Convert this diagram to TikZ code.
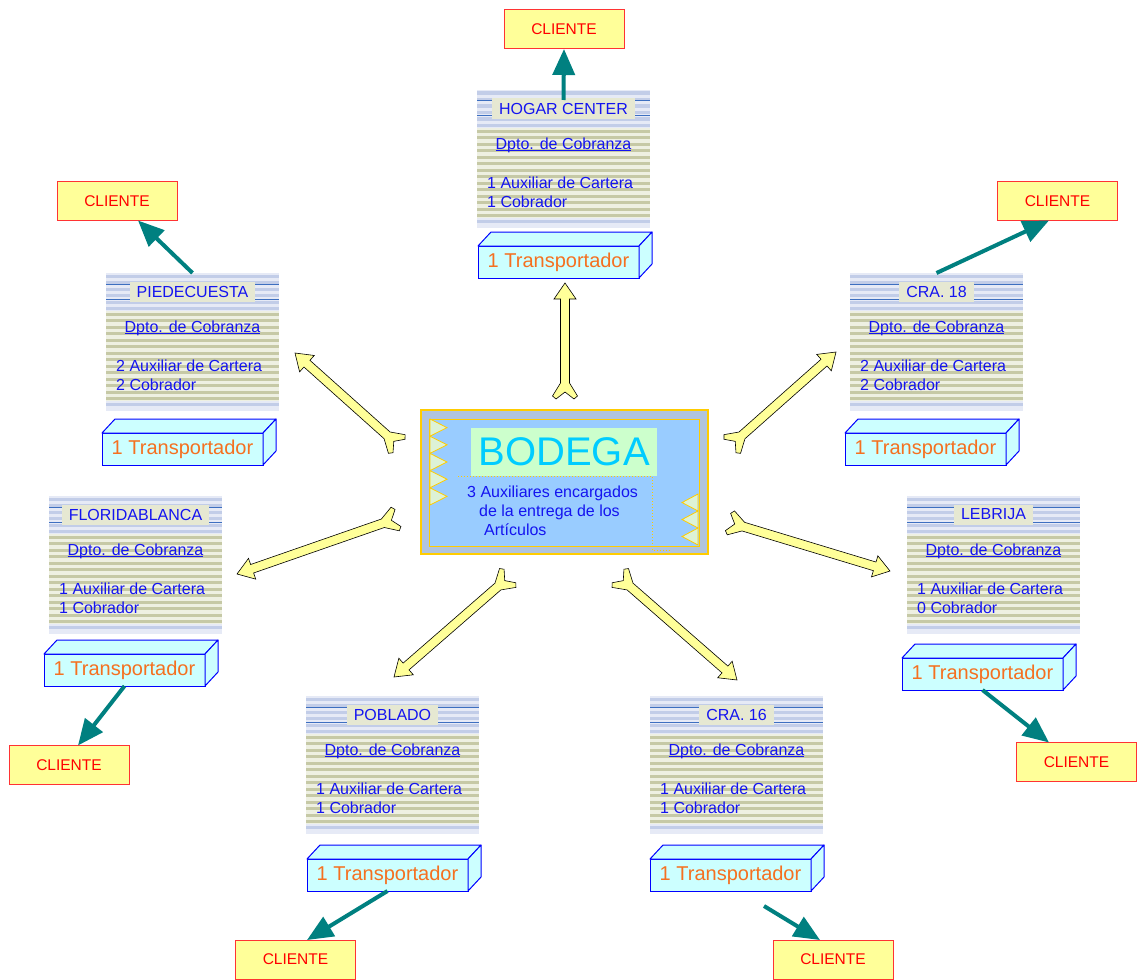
\documentclass[tikz,border=0pt]{standalone}
\usepackage{fontspec}
\setmainfont{Liberation Sans}
\usetikzlibrary{calc,arrows.meta}

\definecolor{linkblue}{HTML}{1414F0}
\definecolor{clred}{HTML}{FF3333}
\definecolor{clfill}{HTML}{FFFF99}
\definecolor{trfill}{HTML}{CCFFFF}
\definecolor{trorange}{HTML}{F57020}
\definecolor{tealc}{HTML}{008080}
\definecolor{yfill}{HTML}{FFFF99}
\definecolor{hdrfill}{HTML}{E6E8D2}
\definecolor{hdrline}{HTML}{3D6FC0}
\definecolor{stbase}{HTML}{EEF0E2}
\definecolor{stolive}{HTML}{C6C9A6}
\definecolor{stbluebase}{HTML}{E6EAF6}
\definecolor{stblue}{HTML}{C2CDE8}
\definecolor{bodegaedge}{HTML}{FFCC00}
\definecolor{bodegaframe}{HTML}{B0C4DE}
\definecolor{bodegafill}{HTML}{99CCFF}
\definecolor{bodegalabel}{HTML}{CCFFCC}
\definecolor{bodegacyan}{HTML}{00CCFF}
\definecolor{trifill}{HTML}{DDF2D6}

% underline set close to the baseline
\newcommand\linkul[1]{\setbox0\hbox{#1}\rlap{\rule[-2pt]{\wd0}{0.9pt}}\box0}

\tikzset{
  cliente/.style={draw=clred, line width=1, fill=clfill, text=red, minimum width=120,
    minimum height=39, inner sep=0, outer sep=0, font=\fontsize{15.5}{18}\selectfont},
  transp/.style={draw=blue, line width=1, fill=trfill, text=trorange, minimum width=161,
    minimum height=32, inner sep=0, outer sep=0, font=\fontsize{20}{24}\selectfont},
  tface/.style={draw=blue, line width=1, fill=trfill, line join=round},
  tealarrow/.style={draw=tealc, line width=4, -{Triangle[length=26pt,width=22pt]}},
  yarrow/.style={draw=black, line width=0.6, fill=yfill, line join=miter},
  hdr/.style={fill=hdrfill, text=linkblue, inner xsep=7, inner ysep=0, minimum height=20,
    font=\fontsize{16}{19}\selectfont},
  btxt/.style={text=linkblue, font=\fontsize{16}{20}\selectfont, inner sep=0},
  hdrrule/.style={draw=hdrline, line width=1},
  tri/.style={draw=bodegaedge, line width=0.8, fill=trifill},
}

% striped office box: name, left, top, title, auxiliaries, collectors
\newcommand\branch[6]{%
  \fill[stbase] (#2,#3) rectangle ++(173,138);
  \fill[stbluebase] (#2,#3) rectangle ++(173,38);
  \fill[stbluebase] (#2,#3+128) rectangle ++(173,10);
  \foreach \k in {0,...,5} \fill[stblue] (#2,#3+\k*6.5+1.5) rectangle ++(173,3.2);
  \foreach \k in {0,...,13} \fill[stolive] (#2,#3+38+\k*6.5+1.5) rectangle ++(173,3.2);
  \fill[stblue] (#2,#3+129.5) rectangle ++(173,3.2);
  \node[minimum width=173, minimum height=138, inner sep=0, outer sep=0, anchor=north west] (#1) at (#2,#3) {};
  \draw[hdrrule] (#2,#3+11) -- ++(173,0);
  \draw[hdrrule] (#2,#3+26) -- ++(173,0);
  \node[hdr] (#1-t) at (#2+86.5,#3+18.5) {#4};
  \node[btxt] (#1-d) at (#2+86.5,#3+55) {\linkul{Dpto. de Cobranza}};
  \node[btxt, anchor=west] (#1-a) at (#2+10,#3+93) {#5 Auxiliar de Cartera};
  \node[btxt, anchor=west] (#1-c) at (#2+10,#3+112) {#6 Cobrador};
}

% box drawn in perspective: name, left, top of the front face
\newcommand\transport[3]{%
  \node[transp, anchor=north west] (#1) at (#2,#3) {1 Transportador};
  \filldraw[tface] (#1.north west) -- ++(13,-14) -- ++(161,0) -- (#1.north east) -- cycle;
  \filldraw[tface] (#1.north east) -- ++(13,-14) -- ++(0,32) -- (#1.south east) -- cycle;
}

% block arrow with a notched tail, from tail coordinate to head coordinate
\newcommand\ylink[2]{%
  \path let \p1=($(#2)-(#1)$) in \pgfextra{%
    \pgfmathsetmacro\yang{atan2(\y1,\x1)}\pgfmathsetmacro\ylen{veclen(\x1,\y1)}%
    \xdef\gyang{\yang}\xdef\gylen{\ylen}};
  \begin{scope}[shift={(#1)}, rotate=\gyang, x=1pt, y=1pt]
    \filldraw[yarrow] (0,9) -- (3,12.5) -- (16,4.5) -- ({\gylen-16},4.5) -- ({\gylen-16},11)
      -- (\gylen,0) -- ({\gylen-16},-11) -- ({\gylen-16},-4.5) -- (16,-4.5) -- (3,-12.5)
      -- (0,-9) -- (7,0) -- cycle;
  \end{scope}
}

\begin{document}
\begin{tikzpicture}[x=1pt, y=-1pt]
\useasboundingbox (0,0) rectangle (1139,979);

% central warehouse
\node[draw=bodegaedge, line width=1.5, fill=bodegaframe, minimum width=287, minimum height=144,
  anchor=north west, inner sep=0, outer sep=0] (bodega) at (421,410) {};
\draw[bodegaedge, line width=1, fill=bodegafill] (429,419) rectangle (699,546);
\foreach \k in {0,...,4}
  \filldraw[tri] (430,419+\k*17.2) -- (447,419+\k*17.2+8.6) -- (430,419+\k*17.2+17.2) -- cycle;
\foreach \k in {0,1,2}
  \filldraw[tri] (698,494+\k*17) -- (682,494+\k*17+8.5) -- (698,494+\k*17+17) -- cycle;
\node[fill=bodegalabel, minimum width=186, minimum height=48, anchor=north west, inner sep=0,
  text=bodegacyan, font=\fontsize{40}{48}\selectfont] (bodega-t) at (471,428) {BODEGA};
\draw[bodegaedge, dotted, line width=1] (458,476) -- (652,476) -- (652,550) -- (670,550);
\node[text=linkblue, font=\fontsize{16}{19}\selectfont, align=left, anchor=north west, inner sep=0]
  (bodega-d) at (467,486) {3 Auxiliares encargados\\\hspace*{12pt}de la entrega de los\\\hspace*{17pt}Artículos};

% branch offices
\branch{hogar}{477}{90}{HOGAR CENTER}{1}{1}
\branch{pied}{106}{273}{PIEDECUESTA}{2}{2}
\branch{cra18}{850}{273}{CRA. 18}{2}{2}
\branch{flor}{49}{496}{FLORIDABLANCA}{1}{1}
\branch{lebr}{907}{496}{LEBRIJA}{1}{0}
\branch{pobl}{306}{696}{POBLADO}{1}{1}
\branch{cra16}{650}{696}{CRA. 16}{1}{1}

% transport units
\transport{thog}{478}{246}
\transport{tpie}{102}{433}
\transport{tc18}{845}{433}
\transport{tflo}{44}{654}
\transport{tleb}{902}{658}
\transport{tpob}{307}{859}
\transport{tc16}{650}{859}

% customers
\node[cliente] (clh) at (564,29.5) {CLIENTE};
\node[cliente] (clp) at (117,201) {CLIENTE};
\node[cliente] (clr) at (1057.5,201) {CLIENTE};
\node[cliente] (clf) at (69,765) {CLIENTE};
\node[cliente] (cll) at (1076.5,762) {CLIENTE};
\node[cliente] (clpb) at (295.5,959.5) {CLIENTE};
\node[cliente] (clc) at (833,959.5) {CLIENTE};

% deliveries to customers
\draw[tealarrow] ($(hogar.north)+(0,10)$) -- (clh.south);
\draw[tealarrow] (pied.north) -- ($(clp.south)+(21,0)$);
\draw[tealarrow] (cra18.north) -- ($(clr.south)+(-8.5,0)$);
\draw[tealarrow] (tflo.south) -- ($(clf.north)+(9,0)$);
\draw[tealarrow] (tleb.south) -- ($(cll.north)+(-27.5,0)$);
\draw[tealarrow] (tpob.south) -- ($(clpb.north)+(11.5,0)$);
\coordinate (c16s) at (764,906);
\draw[tealarrow] (c16s) -- ($(clc.north)+(-13,0)$);

% links between the warehouse and the offices
\coordinate (t1) at (565,399);  \coordinate (h1) at (565,283);
\coordinate (t2) at (399,446);  \coordinate (h2) at (295,353);
\coordinate (t3) at (730,446);  \coordinate (h3) at (836,352);
\coordinate (t4) at (398,518);  \coordinate (h4) at (237,574);
\coordinate (t5) at (728,522);  \coordinate (h5) at (890,571);
\coordinate (t6) at (510,576);  \coordinate (h6) at (394,677);
\coordinate (t7) at (618,576);  \coordinate (h7) at (737,680);
\ylink{t1}{h1}
\ylink{t2}{h2}
\ylink{t3}{h3}
\ylink{t4}{h4}
\ylink{t5}{h5}
\ylink{t6}{h6}
\ylink{t7}{h7}
\end{tikzpicture}
\end{document}
